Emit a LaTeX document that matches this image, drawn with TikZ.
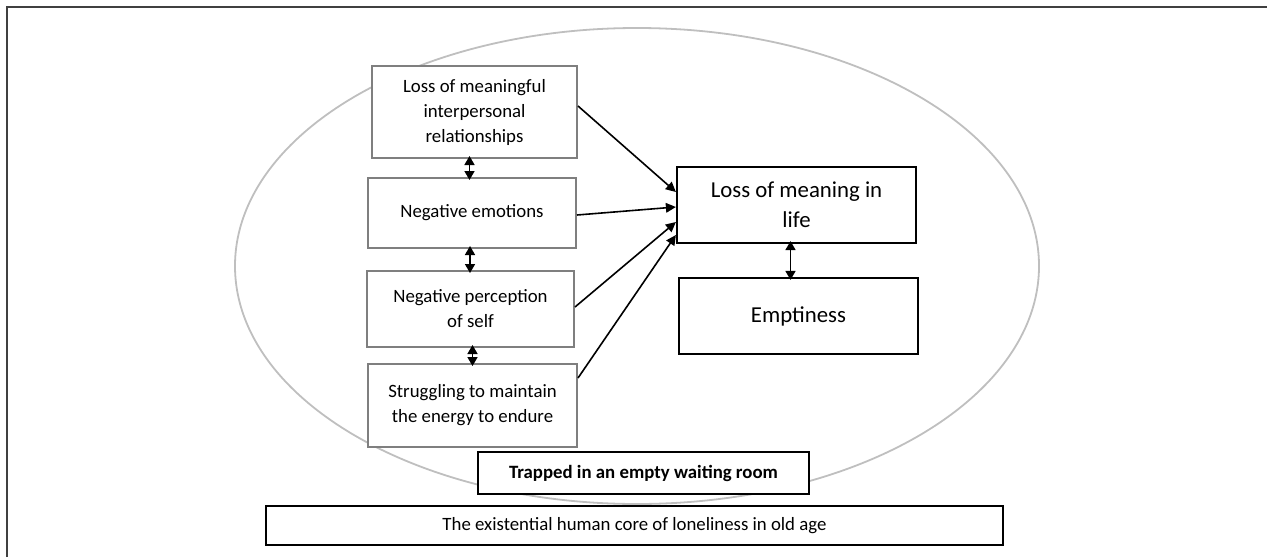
\documentclass[tikz,border=0pt]{standalone}
\usepackage{fontspec}
\setmainfont{Carlito}
\usetikzlibrary{arrows.meta}
\definecolor{boxgray}{HTML}{7F7F7F}
\definecolor{ringgray}{HTML}{BFBFBF}
\definecolor{framegray}{HTML}{404040}
\tikzset{
  themebox/.style={draw=boxgray,line width=1pt,fill=white,align=center,
    inner sep=2pt,font=\fontsize{9.4}{12.5}\selectfont},
  corebox/.style={draw=black,line width=1.1pt,fill=white,align=center,
    inner sep=2pt,font=\fontsize{11.4}{15}\selectfont},
  flat/.style={draw=black,line width=1pt,fill=white,align=center,
    inner sep=2pt,font=\fontsize{9.4}{12.5}\selectfont},
  link/.style={line width=0.8pt,-{Triangle[length=5pt,width=4.8pt]}},
  bilink/.style={line width=0.8pt,shorten <=-1.5pt,shorten >=-1.5pt,
    {Triangle[length=4.5pt,width=5pt]}-{Triangle[length=4.5pt,width=5pt]}}
}
\begin{document}
\begin{tikzpicture}[x=0.5pt,y=-0.5pt,line join=miter]
  \useasboundingbox (0,0) rectangle (1267,557);
  % 外框
  \draw[framegray,line width=1pt] (6.5,557) -- (6.5,6.5) -- (1267,6.5);

  % 椭圆
  \draw[ringgray,line width=0.9pt] (637,266) ellipse [x radius=201pt,y radius=119pt];

  % 左列四个方框
  \node[themebox,minimum width=102.5pt,minimum height=46pt] (B1) at (474.5,112)
    {Loss of meaningful\\interpersonal\\relationships};
  \node[themebox,minimum width=104pt,minimum height=35pt] (B2) at (472,213)
    {Negative emotions};
  \node[themebox,minimum width=103.5pt,minimum height=38pt] (B3) at (470.5,309)
    {Negative perception\\of self};
  \node[themebox,minimum width=104.5pt,minimum height=41.5pt] (B4) at (472.5,405.5)
    {Struggling to maintain\\the energy to endure};

  % 右侧方框
  \node[corebox,minimum width=119.5pt,minimum height=38pt] (R1) at (796.5,205)
    {Loss of meaning in\\life};
  \node[corebox,minimum width=119.5pt,minimum height=38pt] (R2) at (798.5,316)
    {Emptiness};

  % 底部方框
  \node[flat,minimum width=165.5pt,minimum height=21pt,font=\fontsize{9.4}{12.5}\selectfont\bfseries] (T) at (643.5,473)
    {Trapped in an empty waiting room};
  \node[flat,minimum width=368.5pt,minimum height=19.5pt] (C) at (634.5,525.5)
    {The existential human core of loneliness in old age};

  % 双向箭头
  \draw[bilink] ([xshift=-2.5pt]B1.south) -- ([xshift=-2.5pt]B1.south |- B2.north);
  \draw[bilink] ([xshift=-1pt]B2.south) -- ([xshift=-1pt]B2.south |- B3.north);
  \draw[bilink] ([xshift=1pt]B3.south) -- ([xshift=1pt]B3.south |- B4.north);
  \draw[bilink] ([xshift=-3pt]R1.south) -- ([xshift=-3pt]R1.south |- R2.north);

  % 指向右侧的箭头
  \draw[link] ([yshift=3pt]B1.east) -- ([yshift=6.5pt]R1.west);
  \draw[link] ([yshift=-1pt]B2.east) -- ([yshift=-1pt]R1.west);
  \draw[link] ([yshift=1pt]B3.east) -- ([yshift=-8.5pt]R1.west);
  \draw[link] ([yshift=13.75pt]B4.east) -- ([yshift=-15pt]R1.west);
\end{tikzpicture}
\end{document}
